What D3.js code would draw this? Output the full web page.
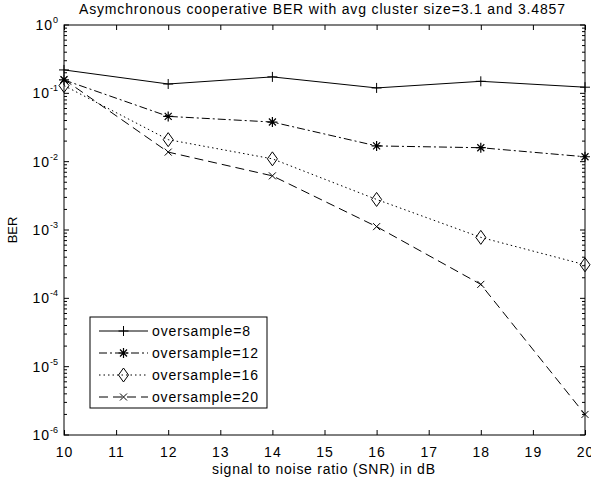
<!DOCTYPE html>
<html lang="en">
<head>
<meta charset="UTF-8">
<title>Asymchronous cooperative BER</title>
<script src="https://d3js.org/d3.v7.min.js"></script>
<style>
  body { margin: 0; background: #fff; }
  svg text { font-family: "Liberation Sans", Arial, sans-serif; fill: #000; }
</style>
</head>
<body>
<svg id="chart" width="591" height="483"></svg>
<script>
// data
const snr = [10, 12, 14, 16, 18, 20];
const ber8  = [0.22, 0.137, 0.174, 0.12, 0.15, 0.123];
const ber12 = [0.157, 0.046, 0.038, 0.017, 0.016, 0.0118];
const ber16 = [0.13, 0.021, 0.011, 0.0028, 0.00078, 0.00031];
const ber20 = [0.16, 0.0138, 0.0062, 0.00112, 0.00016, 0.000002];
const seriesNames = ["oversample=8", "oversample=12", "oversample=16", "oversample=20"];
const xTicks = [10, 11, 12, 13, 14, 15, 16, 17, 18, 19, 20];
const yExps = [0, -1, -2, -3, -4, -5, -6];

const svg = d3.select("#chart");
const m = {left: 64, right: 585, top: 25, bottom: 435};

const x = d3.scaleLinear().domain([10, 20]).range([m.left, m.right]);
const y = d3.scaleLog().domain([1e-6, 1]).range([m.bottom, m.top]);

// frame
svg.append("rect")
    .attr("x", m.left).attr("y", m.top)
    .attr("width", m.right - m.left).attr("height", m.bottom - m.top)
    .attr("fill", "none").attr("stroke", "#000").attr("stroke-width", 1);

// x ticks (bottom and top, inside)
const xb = svg.append("g").attr("transform", `translate(0,${m.bottom})`)
    .call(d3.axisBottom(x).tickValues(xTicks).tickSize(-5).tickPadding(12).tickFormat(d3.format("d")));
const xt = svg.append("g").attr("transform", `translate(0,${m.top})`)
    .call(d3.axisTop(x).tickValues(xTicks).tickSize(-5).tickFormat(""));
[xb, xt].forEach(g => {
    g.select(".domain").remove();
    g.selectAll("line").attr("stroke", "#000");
});
xb.selectAll("text").attr("font-size", 14).attr("letter-spacing", 1);

// y ticks, major and minor, both sides
const minor = [];
for (let e = -6; e < 0; e++) for (let k = 2; k <= 9; k++) minor.push(k * Math.pow(10, e));
const major = yExps.map(e => Math.pow(10, e));
[[m.left, 1], [m.right, -1]].forEach(([px, dir]) => {
    svg.append("g").selectAll("line").data(major).join("line")
        .attr("x1", px).attr("x2", px + dir * 5)
        .attr("y1", d => y(d)).attr("y2", d => y(d))
        .attr("stroke", "#000");
    svg.append("g").selectAll("line").data(minor).join("line")
        .attr("x1", px).attr("x2", px + dir * 3)
        .attr("y1", d => y(d)).attr("y2", d => y(d))
        .attr("stroke", "#000");
});

// y labels 10^e
const yl = svg.append("g").selectAll("text").data(yExps).join("text")
    .attr("x", m.left - 6)
    .attr("y", d => y(Math.pow(10, d)) + 5)
    .attr("text-anchor", "end")
    .attr("font-size", 14);
yl.append("tspan").attr("letter-spacing", 1).text("10");
yl.append("tspan").attr("dy", -7).attr("font-size", 9).text(d => d);

// titles
svg.append("text").attr("x", 79).attr("y", 14)
    .attr("font-size", 14).attr("textLength", 486).attr("lengthAdjust", "spacing")
    .text("Asymchronous cooperative BER with avg cluster size=3.1 and 3.4857");
svg.append("text").attr("x", 212).attr("y", 474)
    .attr("font-size", 14).attr("textLength", 223).attr("lengthAdjust", "spacing")
    .text("signal to noise ratio (SNR) in dB");
svg.append("text").attr("transform", `translate(17,${(m.top + m.bottom) / 2}) rotate(-90)`)
    .attr("text-anchor", "middle").attr("font-size", 13).text("BER");

// series
const styles = [
    {data: ber8,  dash: null,        marker: "plus"},
    {data: ber12, dash: "8,3,2,3",   marker: "star"},
    {data: ber16, dash: "1.5,3",     marker: "diamond"},
    {data: ber20, dash: "9,5",       marker: "cross"}
];

function drawMarker(g, type, cx, cy) {
    const s = 5;
    if (type === "plus") {
        g.append("path").attr("d", `M${cx - s},${cy}H${cx + s}M${cx},${cy - s}V${cy + s}`)
            .attr("stroke", "#000").attr("fill", "none");
    } else if (type === "cross") {
        const c = 3.5;
        g.append("path").attr("d", `M${cx - c},${cy - c}L${cx + c},${cy + c}M${cx - c},${cy + c}L${cx + c},${cy - c}`)
            .attr("stroke", "#000").attr("fill", "none");
    } else if (type === "star") {
        const c = 3.5;
        g.append("path").attr("d", `M${cx - s},${cy}H${cx + s}M${cx},${cy - s}V${cy + s}M${cx - c},${cy - c}L${cx + c},${cy + c}M${cx - c},${cy + c}L${cx + c},${cy - c}`)
            .attr("stroke", "#000").attr("fill", "none").attr("stroke-width", 1.2);
    } else if (type === "diamond") {
        g.append("path").attr("d", `M${cx},${cy - 7}L${cx + 5},${cy}L${cx},${cy + 7}L${cx - 5},${cy}Z`)
            .attr("stroke", "#000").attr("fill", "none");
    }
}

const line = d3.line().x((d, i) => x(snr[i])).y(d => y(d));
styles.forEach(st => {
    svg.append("path").datum(st.data)
        .attr("d", line)
        .attr("fill", "none").attr("stroke", "#000").attr("stroke-width", 1)
        .attr("stroke-dasharray", st.dash);
    const g = svg.append("g");
    st.data.forEach((d, i) => drawMarker(g, st.marker, x(snr[i]), y(d)));
});

// legend
const lg = svg.append("g");
lg.append("rect").attr("x", 90).attr("y", 317).attr("width", 177).attr("height", 91)
    .attr("fill", "#fff").attr("stroke", "#000");
seriesNames.forEach((name, i) => {
    const ly = 331 + i * 22;
    lg.append("line").attr("x1", 99).attr("x2", 148).attr("y1", ly).attr("y2", ly)
        .attr("stroke", "#000").attr("stroke-dasharray", styles[i].dash);
    drawMarker(lg, styles[i].marker, 123.5, ly);
    lg.append("text").attr("x", 152).attr("y", ly + 5).attr("font-size", 14)
        .attr("textLength", name.length === 12 ? 98 : 106).attr("lengthAdjust", "spacing")
        .text(name);
});
</script>
</body>
</html>
